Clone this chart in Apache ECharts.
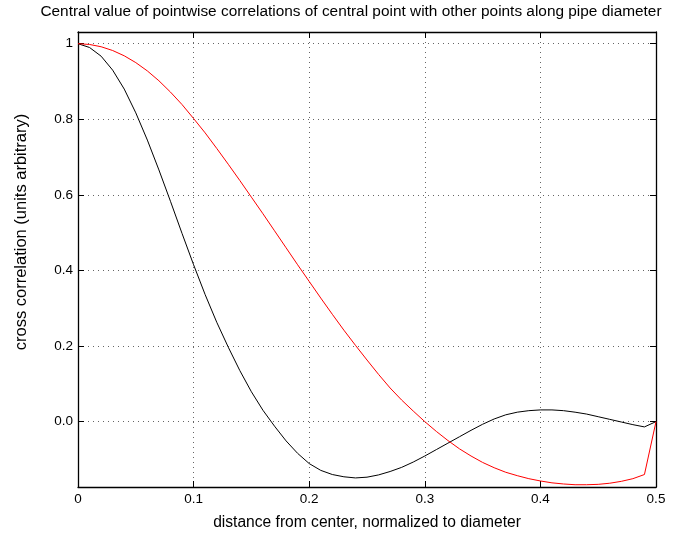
<!DOCTYPE html>
<html>
<head>
<meta charset="utf-8">
<script src="https://cdn.jsdelivr.net/npm/echarts@6/dist/echarts.min.js"></script>
<style>
  html, body { margin: 0; padding: 0; background: #fff; }
  #chart { width: 678px; height: 540px; }
</style>
</head>
<body>
<div id="chart"></div>
<script>
// Distance from the pipe centre, normalized to the diameter (sampled every 0.01)
var distance = [
  0.00, 0.01, 0.02, 0.03, 0.04, 0.05, 0.06, 0.07, 0.08, 0.09,
  0.10, 0.11, 0.12, 0.13, 0.14, 0.15, 0.16, 0.17, 0.18, 0.19,
  0.20, 0.21, 0.22, 0.23, 0.24, 0.25, 0.26, 0.27, 0.28, 0.29,
  0.30, 0.31, 0.32, 0.33, 0.34, 0.35, 0.36, 0.37, 0.38, 0.39,
  0.40, 0.41, 0.42, 0.43, 0.44, 0.45, 0.46, 0.47, 0.48, 0.49,
  0.50
];

// Measured cross correlation (black)
var measured = [
  1.000, 0.990, 0.967, 0.930, 0.880, 0.817, 0.745, 0.666, 0.583, 0.498,
  0.415, 0.336, 0.263, 0.197, 0.135, 0.079, 0.030, -0.012, -0.051, -0.084,
  -0.111, -0.129, -0.140, -0.146, -0.149, -0.147, -0.141, -0.132, -0.121, -0.107,
  -0.091, -0.074, -0.057, -0.040, -0.023, -0.007, 0.007, 0.018, 0.025, 0.029,
  0.031, 0.031, 0.029, 0.025, 0.020, 0.013, 0.006, -0.001, -0.008, -0.014,
  0.000
];

// Model cross correlation (red)
var model = [
  1.000, 0.998, 0.992, 0.982, 0.968, 0.950, 0.928, 0.902, 0.872, 0.839,
  0.802, 0.764, 0.723, 0.681, 0.638, 0.594, 0.550, 0.505, 0.460, 0.415,
  0.371, 0.327, 0.284, 0.242, 0.202, 0.163, 0.125, 0.089, 0.057, 0.028,
  0.000, -0.026, -0.050, -0.072, -0.091, -0.108, -0.122, -0.134, -0.143, -0.151,
  -0.157, -0.162, -0.165, -0.167, -0.167, -0.166, -0.163, -0.158, -0.151, -0.140,
  0.000
];

var yTicks = [0, 0.2, 0.4, 0.6, 0.8, 1];

var titleText = 'Central value of pointwise correlations of central point with other points along pipe diameter';
var xName = 'distance from center, normalized to diameter';
var yName = 'cross correlation (units arbitrary)';

var FONT = 'Liberation Sans, Arial, Helvetica, sans-serif';

function pairs(ys) {
  return distance.map(function (x, i) { return [x, ys[i]]; });
}

var gridLine = { show: true, lineStyle: { color: '#666', width: 1, type: [1, 4] } };
var edge = { show: true, onZero: false, lineStyle: { color: '#000', width: 1.3 } };
var tickIn = { show: true, inside: true, length: 6, lineStyle: { color: '#000', width: 1 } };

var xBase = {
  type: 'value', min: 0, max: 0.5, interval: 0.1,
  axisLine: edge, axisTick: tickIn
};
var yBase = {
  type: 'value', min: -0.173, max: 1.031,
  axisLine: edge,
  axisTick: Object.assign({ customValues: yTicks }, tickIn)
};

var chart = echarts.init(document.getElementById('chart'), null, { renderer: 'canvas' });
chart.setOption({
  animation: false,
  backgroundColor: '#fff',
  grid: { left: 78, right: 22, top: 32, bottom: 53, containLabel: false },
  xAxis: [
    Object.assign({}, xBase, {
      position: 'bottom',
      splitLine: gridLine,
      name: xName, nameLocation: 'middle', nameGap: 28,
      nameTextStyle: { color: '#000', fontFamily: FONT, fontSize: 15.6 },
      axisLabel: { color: '#000', fontFamily: FONT, fontSize: 13.5, margin: 5 }
    }),
    Object.assign({}, xBase, {
      position: 'top', splitLine: { show: false }, axisLabel: { show: false }
    })
  ],
  yAxis: [
    Object.assign({}, yBase, {
      position: 'left',
      splitLine: gridLine,
      axisLabel: {
        color: '#000', fontFamily: FONT, fontSize: 13.5, margin: 5,
        customValues: yTicks,
        formatter: function (v) { return v === 1 ? '1' : v.toFixed(1); }
      }
    }),
    Object.assign({}, yBase, {
      position: 'right', splitLine: { show: false }, axisLabel: { show: false }
    })
  ],
  graphic: [
    {
      type: 'text', x: 351, y: 12,
      style: { text: titleText, fill: '#000', font: '15.4px ' + FONT, align: 'center', verticalAlign: 'middle' }
    },
    {
      type: 'text', x: 21, y: 232, rotation: Math.PI / 2,
      style: { text: yName, fill: '#000', font: '16.5px ' + FONT, align: 'center', verticalAlign: 'middle' }
    }
  ],
  series: [
    {
      name: 'measured', type: 'line', xAxisIndex: 0, yAxisIndex: 0,
      data: pairs(measured), showSymbol: false, symbol: 'none',
      lineStyle: { color: '#000', width: 1 }, z: 3
    },
    {
      name: 'model', type: 'line', xAxisIndex: 0, yAxisIndex: 0,
      data: pairs(model), showSymbol: false, symbol: 'none',
      lineStyle: { color: '#ff0000', width: 1 }, z: 4
    }
  ]
});
</script>
</body>
</html>
